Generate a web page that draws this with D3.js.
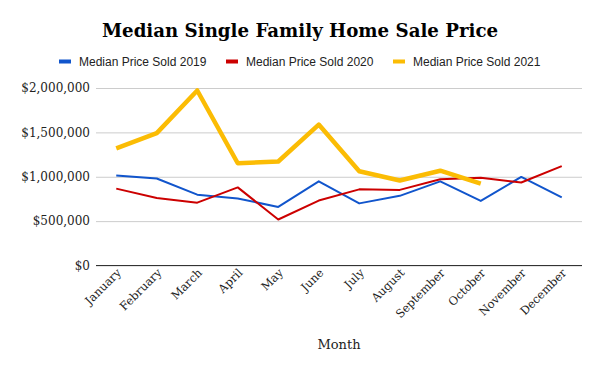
<!DOCTYPE html>
<html>
<head>
<meta charset="utf-8">
<script src="https://cdn.jsdelivr.net/npm/d3@7"></script>
<style>
  body { margin: 0; background: #fff; }
  svg { display: block; }
</style>
</head>
<body>
<div id="main"></div>
<script>
const ctx = {
    w: 600,
    h: 371,
    left: 96,
    right: 582,
    top: 88,
    bottom: 265.5
};

// data
const months = ["January", "February", "March", "April", "May", "June",
                "July", "August", "September", "October", "November", "December"];
const sold2019 = [1015000, 980000, 798000, 755000, 660000, 948000,
                  700000, 785000, 948000, 728000, 998000, 768000];
const sold2020 = [866000, 760000, 708000, 880000, 518000, 732000,
                  858000, 852000, 972000, 990000, 935000, 1120000];
const sold2021 = [1320000, 1492000, 1972000, 1152000, 1172000, 1588000,
                  1062000, 958000, 1068000, 922000, null, null];
const yTicks = [0, 500000, 1000000, 1500000, 2000000];

const series = [
    {name: "Median Price Sold 2019", values: sold2019, color: "#1155cc", width: 2},
    {name: "Median Price Sold 2020", values: sold2020, color: "#cc0000", width: 2},
    {name: "Median Price Sold 2021", values: sold2021, color: "#fbbc04", width: 4.5}
];
const legendX = [59, 226, 393];

const serif = "'DejaVu Serif', Georgia, serif";
const sans = "'Liberation Sans', Arial, sans-serif";

function createViz(){
    let svgEl = d3.select("#main").append("svg")
                  .attr("width", ctx.w)
                  .attr("height", ctx.h);
    svgEl.append("rect")
         .attr("width", "100%")
         .attr("height", "100%")
         .attr("fill", "#fff");

    let x = d3.scalePoint()
              .domain(months)
              .range([ctx.left, ctx.right])
              .padding(0.5);
    let y = d3.scaleLinear()
              .domain([0, 2000000])
              .range([ctx.bottom, ctx.top]);

    // title
    svgEl.append("text")
         .attr("x", 300)
         .attr("y", 37)
         .attr("text-anchor", "middle")
         .style("font-family", serif)
         .style("font-weight", "bold")
         .style("font-size", "18.2px")
         .attr("fill", "#000")
         .text("Median Single Family Home Sale Price");

    // legend
    let leg = svgEl.append("g").attr("id", "legend");
    series.forEach(function(s, i){
        leg.append("rect")
           .attr("x", legendX[i])
           .attr("y", 59.5)
           .attr("width", 12)
           .attr("height", 4)
           .attr("fill", s.color);
        leg.append("text")
           .attr("x", legendX[i] + 20)
           .attr("y", 65.5)
           .style("font-family", sans)
           .style("font-size", "12px")
           .attr("fill", "#222")
           .text(s.name);
    });

    // y axis with gridlines
    let yAxis = d3.axisLeft(y)
                  .tickValues(yTicks)
                  .tickSize(-(ctx.right - ctx.left))
                  .tickPadding(6)
                  .tickFormat(d => "$" + d3.format(",")(d));
    let yG = svgEl.append("g")
                  .attr("transform", `translate(${ctx.left},0)`)
                  .call(yAxis);
    yG.select(".domain").remove();
    yG.selectAll(".tick line")
      .attr("stroke", "#cccccc")
      .attr("stroke-width", 1);
    yG.selectAll(".tick text")
      .style("font-family", serif)
      .style("font-size", "12px")
      .attr("fill", "#222");

    // baseline
    svgEl.append("line")
         .attr("x1", ctx.left)
         .attr("x2", ctx.right)
         .attr("y1", y(0))
         .attr("y2", y(0))
         .attr("stroke", "#333")
         .attr("stroke-width", 1.2);

    // x axis labels
    let xAxis = d3.axisBottom(x).tickSize(0).tickPadding(0);
    let xG = svgEl.append("g")
                  .attr("transform", `translate(0,${ctx.bottom})`)
                  .call(xAxis);
    xG.select(".domain").remove();
    xG.selectAll(".tick text")
      .attr("text-anchor", "end")
      .attr("dy", null)
      .attr("y", 0)
      .attr("transform", "translate(5,8) rotate(-45)")
      .style("font-family", serif)
      .style("font-size", "11.5px")
      .attr("fill", "#222");

    // axis title
    svgEl.append("text")
         .attr("x", (ctx.left + ctx.right) / 2)
         .attr("y", 349)
         .attr("text-anchor", "middle")
         .style("font-family", serif)
         .style("font-size", "13px")
         .attr("fill", "#222")
         .text("Month");

    // lines
    let line = d3.line()
                 .defined(d => d != null)
                 .x((d, i) => x(months[i]))
                 .y(d => y(d));
    svgEl.append("g").attr("id", "lines")
         .selectAll("path")
         .data(series)
         .enter()
         .append("path")
         .attr("d", d => line(d.values))
         .attr("fill", "none")
         .attr("stroke", d => d.color)
         .attr("stroke-width", d => d.width)
         .attr("stroke-linejoin", "round");
}

createViz();
</script>
</body>
</html>
